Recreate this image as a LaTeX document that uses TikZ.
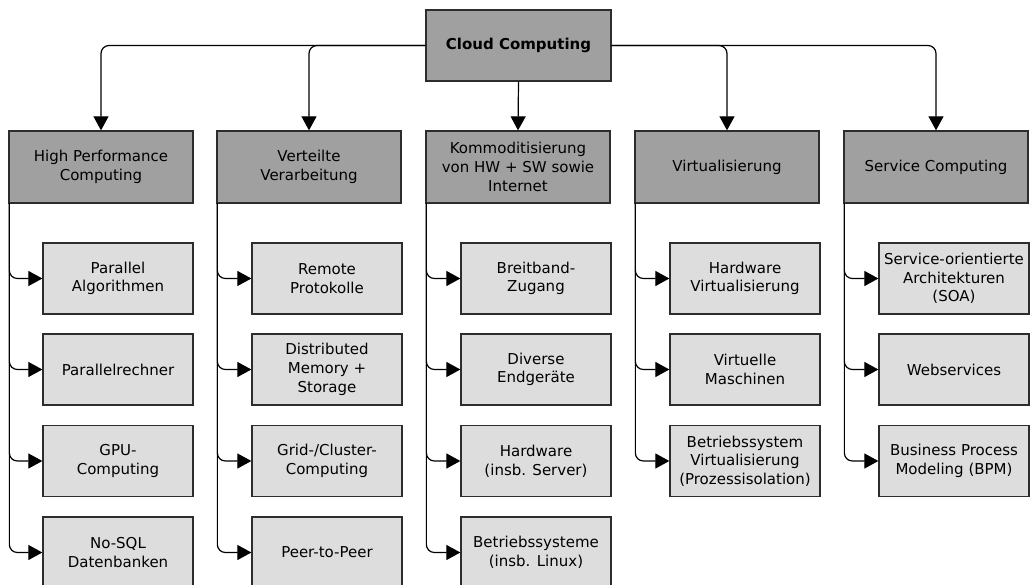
\documentclass[tikz,border=0pt]{standalone}
\usepackage{fontspec}
\setmainfont{DejaVu Sans}
\usetikzlibrary{arrows.meta}
\definecolor{darkfill}{RGB}{160,160,160}
\definecolor{lightfill}{RGB}{221,221,221}
\definecolor{edge}{RGB}{45,45,45}
\begin{document}
\begin{tikzpicture}[x=1pt,y=-1pt,
  txt/.style={font=\fontsize{15}{18.7}\selectfont, align=center, text=black},
  topbox/.style={txt, draw=edge, line width=1.3pt, fill=darkfill, minimum width=184pt, minimum height=72pt, inner sep=0pt},
  subbox/.style={txt, draw=edge, line width=1.3pt, fill=lightfill, minimum width=150pt, minimum height=71pt, inner sep=0pt},
  conn/.style={draw=black, line width=1.2pt, rounded corners=8pt, -{Triangle[length=14pt,width=15pt]}}
]
\useasboundingbox (0,0) rectangle (1031,585);

% root
\node[topbox, font=\fontsize{15}{18.7}\selectfont\bfseries, minimum width=185pt, minimum height=71pt] (root) at (518.5,45.5) {Cloud Computing};

% level 1
\node[topbox] (h1) at (101,167) {High Performance\\Computing};
\node[topbox] (h2) at (309,167) {Verteilte\\Verarbeitung};
\node[topbox] (h3) at (518,167) {Kommoditisierung\\von HW + SW sowie\\Internet};
\node[topbox] (h4) at (727,167) {Virtualisierung};
\node[topbox] (h5) at (936,167) {Service Computing};

% level 2, column 1
\node[subbox] (a1) at (118,278.5) {Parallel\\Algorithmen};
\node[subbox] (a2) at (118,369.5) {Parallelrechner};
\node[subbox] (a3) at (118,461) {GPU-\\Computing};
\node[subbox] (a4) at (118,552.5) {No-SQL\\Datenbanken};
% column 2
\node[subbox] (b1) at (327,278.5) {Remote\\Protokolle};
\node[subbox] (b2) at (327,369.5) {Distributed\\Memory +\\Storage};
\node[subbox] (b3) at (327,461) {Grid-/Cluster-\\Computing};
\node[subbox] (b4) at (327,552.5) {Peer-to-Peer};
% column 3
\node[subbox] (c1) at (536,278.5) {Breitband-\\Zugang};
\node[subbox] (c2) at (536,369.5) {Diverse\\Endgeräte};
\node[subbox] (c3) at (536,461) {Hardware\\(insb. Server)};
\node[subbox] (c4) at (536,552.5) {Betriebssysteme\\(insb. Linux)};
% column 4
\node[subbox] (d1) at (745,278.5) {Hardware\\Virtualisierung};
\node[subbox] (d2) at (745,369.5) {Virtuelle\\Maschinen};
\node[subbox] (d3) at (745,461) {Betriebssystem\\Virtualisierung\\(Prozessisolation)};
% column 5
\node[subbox] (e1) at (954,278.5) {Service-orientierte\\Architekturen\\(SOA)};
\node[subbox] (e2) at (954,369.5) {Webservices};
\node[subbox] (e3) at (954,461) {Business Process\\Modeling (BPM)};

% root connectors
\draw[conn] (root.west) -| (h1.north);
\draw[conn] (root.west) -| (h2.north);
\draw[conn] (root.south) -- (h3.north);
\draw[conn] (root.east) -| (h4.north);
\draw[conn] (root.east) -| (h5.north);

% sub connectors
\foreach \p/\cs in {h1/{a1,a2,a3,a4}, h2/{b1,b2,b3,b4}, h3/{c1,c2,c3,c4}, h4/{d1,d2,d3}, h5/{e1,e2,e3}}{
  \foreach \c in \cs {
    \draw[conn] ([xshift=1pt]\p.south west) |- (\c.west);
  }
}
\end{tikzpicture}
\end{document}
